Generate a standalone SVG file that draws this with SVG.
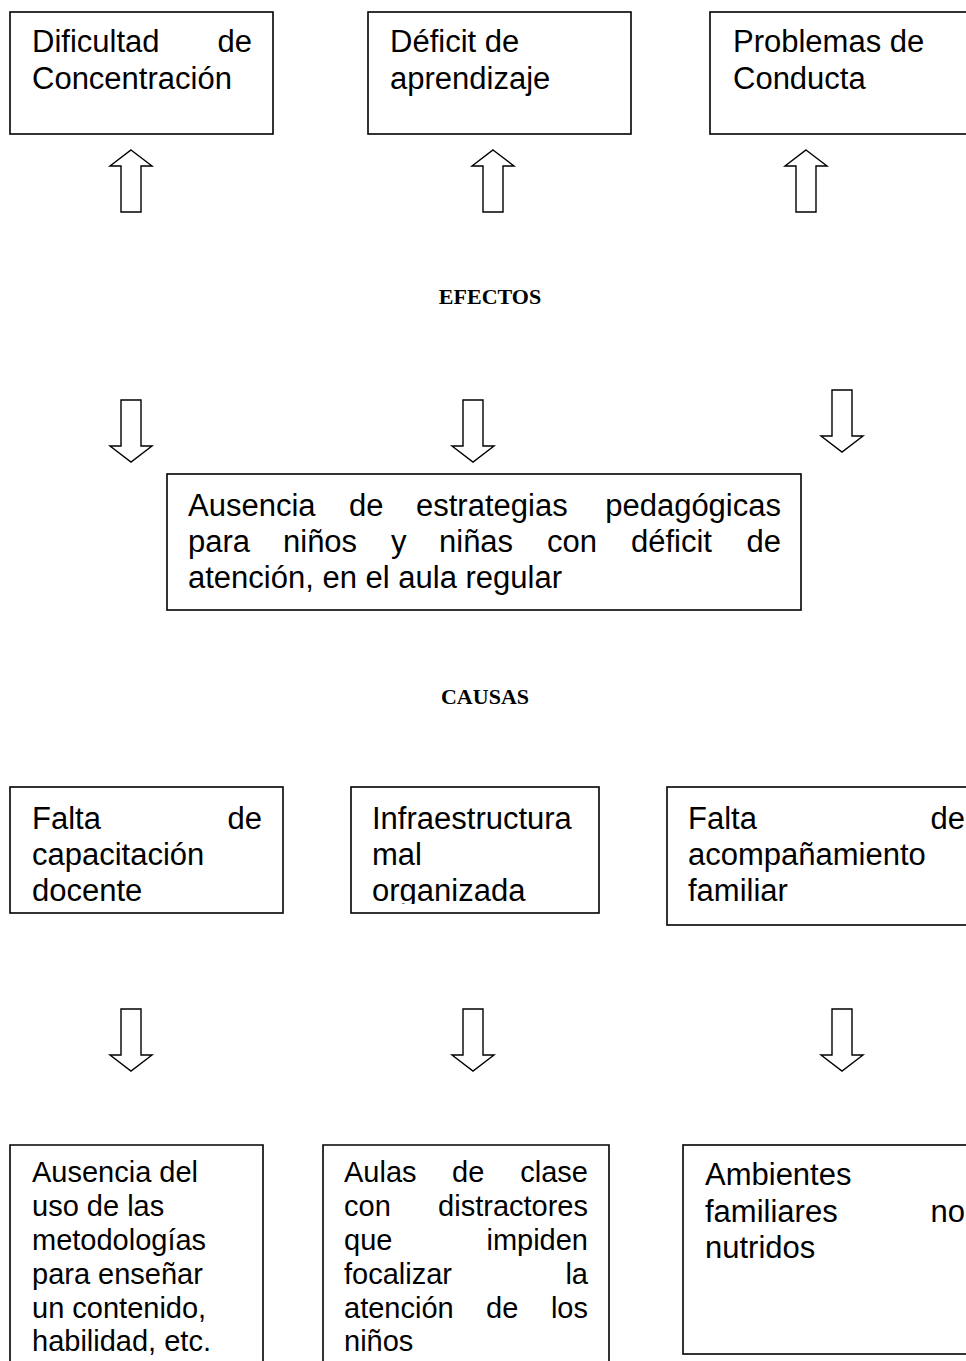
<svg xmlns="http://www.w3.org/2000/svg" xmlns:xlink="http://www.w3.org/1999/xlink" width="966" height="1361" viewBox="0 0 966 1361">
<style>
.box{fill:#fff;stroke:#000;stroke-width:1.6}
.t{font-family:"Liberation Sans",Arial,sans-serif;font-size:31px;fill:#000}
.s{font-family:"Liberation Sans",Arial,sans-serif;font-size:29px;fill:#000}
.h{font-family:"Liberation Serif","Times New Roman",serif;font-size:22px;font-weight:bold;fill:#000}
.e{text-anchor:end}
.arr{fill:#fff;stroke:#000;stroke-width:1.4;stroke-linejoin:miter}
</style>
<defs>
<path id="up" d="M0,0 L21,16 L10,16 L10,62 L-10,62 L-10,16 L-21,16 Z"/>
<path id="down" d="M-10,0 L10,0 L10,46 L21,46 L0,62 L-21,46 L-10,46 Z"/>
<clipPath id="clipB"><rect x="351" y="787" width="248" height="117"/></clipPath>
</defs>
<rect width="966" height="1361" fill="#fff"/>

<g id="connectors">
<use xlink:href="#up" class="arr" x="131" y="150"/>
<use xlink:href="#up" class="arr" x="493" y="150"/>
<use xlink:href="#up" class="arr" x="806" y="150"/>
<use xlink:href="#down" class="arr" x="131" y="400"/>
<use xlink:href="#down" class="arr" x="473" y="400"/>
<use xlink:href="#down" class="arr" x="842" y="390"/>
<use xlink:href="#down" class="arr" x="131" y="1009"/>
<use xlink:href="#down" class="arr" x="473" y="1009"/>
<use xlink:href="#down" class="arr" x="842" y="1009"/>
</g>

<g id="efecto1">
<rect class="box" x="10" y="12" width="263" height="122"/>
<text class="t" x="32" y="52">Dificultad</text><text class="t e" x="252" y="52">de</text>
<text class="t" x="32" y="89">Concentración</text>
</g>
<g id="efecto2">
<rect class="box" x="368" y="12" width="263" height="122"/>
<text class="t" x="390" y="52">Déficit de</text>
<text class="t" x="390" y="89">aprendizaje</text>
</g>
<g id="efecto3">
<rect class="box" x="710" y="12" width="270" height="122"/>
<text class="t" x="733" y="52">Problemas de</text>
<text class="t" x="733" y="89">Conducta</text>
</g>

<text id="efectos" class="h" x="490" y="304" text-anchor="middle">EFECTOS</text>

<g id="problema">
<rect class="box" x="167" y="474" width="634" height="136"/>
<text class="t" x="188" y="516">Ausencia</text><text class="t" x="349" y="516">de</text><text class="t" x="416" y="516">estrategias</text><text class="t e" x="781" y="516">pedagógicas</text>
<text class="t" x="188" y="552">para</text><text class="t" x="283" y="552">niños</text><text class="t" x="391" y="552">y</text><text class="t" x="439" y="552">niñas</text><text class="t" x="547" y="552">con</text><text class="t" x="631" y="552">déficit</text><text class="t e" x="781" y="552">de</text>
<text class="t" x="188" y="588">atención, en el aula regular</text>
</g>

<text id="causas" class="h" x="485" y="704" text-anchor="middle">CAUSAS</text>

<g id="causa1">
<rect class="box" x="10" y="787" width="273" height="126"/>
<text class="t" x="32" y="829">Falta</text><text class="t e" x="262" y="829">de</text>
<text class="t" x="32" y="865">capacitación</text>
<text class="t" x="32" y="901">docente</text>
</g>
<g id="causa2">
<rect class="box" x="351" y="787" width="248" height="126"/>
<g clip-path="url(#clipB)">
<text class="t" x="372" y="829">Infraestructura</text>
<text class="t" x="372" y="865">mal</text>
<text class="t" x="372" y="901">organizada</text>
</g>
</g>
<g id="causa3">
<rect class="box" x="667" y="787" width="310" height="138"/>
<text class="t" x="688" y="829">Falta</text><text class="t e" x="965" y="829">de</text>
<text class="t" x="688" y="865">acompañamiento</text>
<text class="t" x="688" y="901">familiar</text>
</g>

<g id="sub1">
<path class="box" d="M10,1365 L10,1145 L263,1145 L263,1365"/>
<text class="s" x="32" y="1182">Ausencia del</text>
<text class="s" x="32" y="1216">uso de las</text>
<text class="s" x="32" y="1250">metodologías</text>
<text class="s" x="32" y="1284">para enseñar</text>
<text class="s" x="32" y="1318">un contenido,</text>
<text class="s" x="32" y="1351">habilidad, etc.</text>
</g>
<g id="sub2">
<path class="box" d="M323,1365 L323,1145 L609,1145 L609,1365"/>
<text class="s" x="344" y="1182">Aulas</text><text class="s" x="452" y="1182">de</text><text class="s e" x="588" y="1182">clase</text>
<text class="s" x="344" y="1216">con</text><text class="s e" x="588" y="1216">distractores</text>
<text class="s" x="344" y="1250">que</text><text class="s e" x="588" y="1250">impiden</text>
<text class="s" x="344" y="1284">focalizar</text><text class="s e" x="588" y="1284">la</text>
<text class="s" x="344" y="1318">atención</text><text class="s" x="486" y="1318">de</text><text class="s e" x="588" y="1318">los</text>
<text class="s" x="344" y="1351">niños</text>
</g>
<g id="sub3">
<rect class="box" x="683" y="1145" width="300" height="209"/>
<text class="t" x="705" y="1185">Ambientes</text>
<text class="t" x="705" y="1222">familiares</text><text class="t e" x="965" y="1222">no</text>
<text class="t" x="705" y="1258">nutridos</text>
</g>
</svg>
